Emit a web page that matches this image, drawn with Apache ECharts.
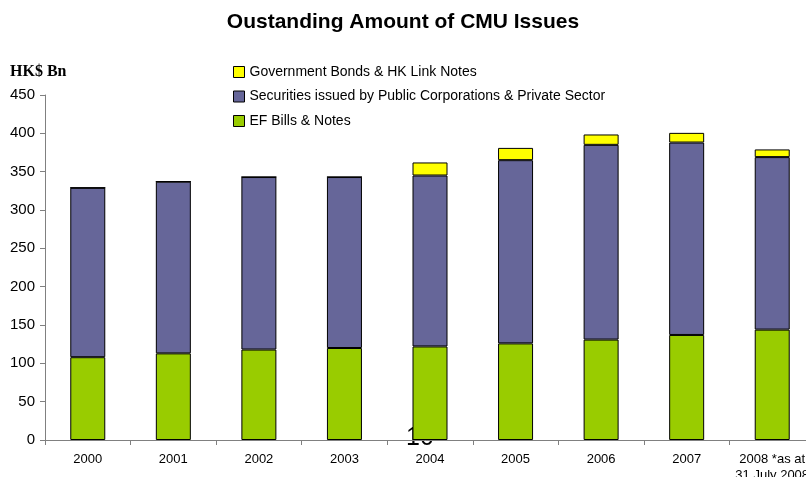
<!DOCTYPE html>
<html>
<head>
<meta charset="utf-8">
<script src="https://cdn.jsdelivr.net/npm/echarts@6/dist/echarts.min.js"></script>
<style>
  html, body { margin: 0; padding: 0; background: #fff; }
  #chart { width: 806px; height: 477px; }
</style>
</head>
<body>
<div id="chart"></div>
<script>
// Outstanding CMU issues by year, HK$ billion
const categories = ['2000', '2001', '2002', '2003', '2004', '2005', '2006', '2007', '2008 *as at\n31 July 2008'];
const efBills = [108, 113, 118, 120, 122, 126, 131, 137, 144];
const securities = [221, 224, 225, 223, 223, 239, 254, 251, 225];
const govBonds = [0, 0, 0, 0, 17, 16, 13.5, 12.6, 10];
const yTicks = { min: 0, max: 450, interval: 50 };

const FONT = 'Liberation Sans, Arial, Helvetica, sans-serif';
const border = { borderColor: '#000', borderWidth: 1 };

const chart = echarts.init(document.getElementById('chart'));
chart.setOption({
  animation: false,
  title: {
    text: 'Oustanding Amount of CMU Issues',
    left: 'center',
    top: 12,
    padding: 0,
    textStyle: { fontFamily: FONT, fontSize: 21, fontWeight: 'bold', color: '#000' }
  },
  legend: {
    orient: 'vertical',
    left: 233,
    top: 65,
    padding: 0,
    itemWidth: 11,
    itemHeight: 11,
    itemGap: 10.5,
    icon: 'rect',
    itemStyle: border,
    textStyle: { fontFamily: FONT, fontSize: 14, color: '#000', lineHeight: 14 },
    data: ['Government Bonds & HK Link Notes', 'Securities issued by Public Corporations & Private Sector', 'EF Bills & Notes']
  },
  graphic: [
    {
      type: 'text', left: 10, top: 64,
      style: { text: 'HK$ Bn', font: 'bold 16px "Liberation Serif", "Times New Roman", serif', fill: '#000' }
    },
    {
      // page number sitting behind the bars
      type: 'text', zlevel: -1, z: 0, left: 406, top: 426,
      style: { text: '10', font: '25px ' + FONT, fill: '#000' }
    }
  ],
  grid: { left: 45, right: -9, top: 95, bottom: 37, containLabel: false, outerBoundsMode: 'none' },
  xAxis: {
    type: 'category',
    data: categories,
    axisLine: { lineStyle: { color: '#808080', width: 1 } },
    axisTick: { show: true, length: 5, lineStyle: { color: '#808080' } },
    axisLabel: { fontFamily: FONT, fontSize: 13, color: '#000', margin: 11, lineHeight: 16, interval: 0 }
  },
  yAxis: {
    type: 'value',
    min: yTicks.min,
    max: yTicks.max,
    interval: yTicks.interval,
    splitLine: { show: false },
    axisLine: { show: true, lineStyle: { color: '#808080', width: 1 } },
    axisTick: { show: true, length: 5, lineStyle: { color: '#808080' } },
    axisLabel: { fontFamily: FONT, fontSize: 15, color: '#000', margin: 10 }
  },
  series: [
    {
      name: 'EF Bills & Notes', type: 'bar', stack: 'cmu', barWidth: 35, z: 10,
      itemStyle: Object.assign({ color: '#99CC00' }, border), data: efBills
    },
    {
      name: 'Securities issued by Public Corporations & Private Sector', type: 'bar', stack: 'cmu', barWidth: 35, z: 10,
      itemStyle: Object.assign({ color: '#666699' }, border), data: securities
    },
    {
      name: 'Government Bonds & HK Link Notes', type: 'bar', stack: 'cmu', barWidth: 35, z: 10,
      itemStyle: Object.assign({ color: '#FFFF00' }, border), data: govBonds
    }
  ]
});
</script>
</body>
</html>
